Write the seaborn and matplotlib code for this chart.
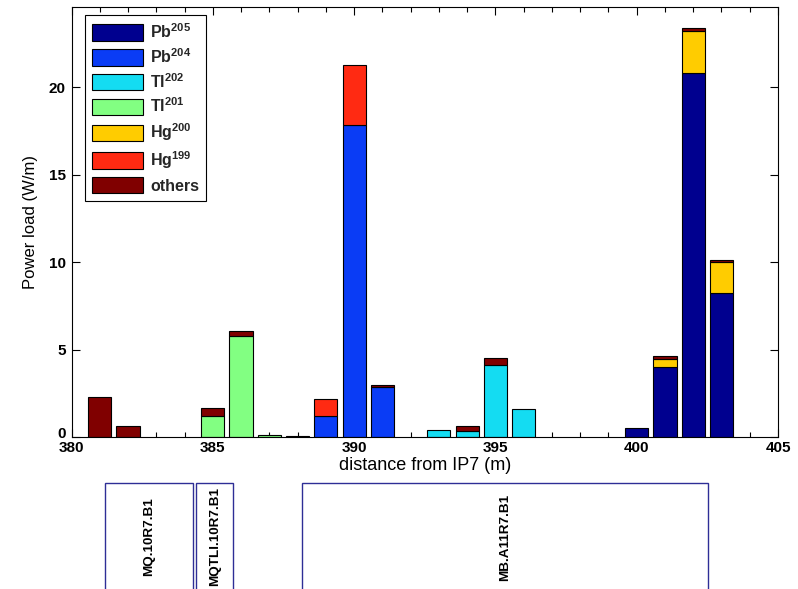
import numpy as np
import pandas as pd
import matplotlib
matplotlib.use("Agg")
import matplotlib.pyplot as plt
import matplotlib.transforms as mtrans
from matplotlib.patches import Patch, Rectangle
import seaborn as sns

# ---------------- data ----------------
positions = [381, 382, 383, 384, 385, 386, 387, 388, 389, 390, 391, 392,
             393, 394, 395, 396, 397, 398, 399, 400, 401, 402, 403]
pb205 = [0, 0, 0, 0, 0, 0, 0, 0, 0, 0, 0, 0, 0, 0, 0, 0, 0, 0, 0, 0.5, 3.98, 20.8, 8.25]
pb204 = [0, 0, 0, 0, 0, 0, 0, 0, 1.2, 17.83, 2.84, 0, 0, 0, 0, 0, 0, 0, 0, 0, 0, 0, 0]
tl202 = [0, 0, 0, 0, 0, 0, 0, 0, 0, 0, 0, 0, 0.38, 0.36, 4.1, 1.63, 0, 0, 0, 0, 0, 0, 0]
tl201 = [0, 0, 0, 0, 1.2, 5.77, 0.1, 0, 0, 0, 0, 0, 0, 0, 0, 0, 0, 0, 0, 0, 0, 0, 0]
hg200 = [0, 0, 0, 0, 0, 0, 0, 0, 0, 0, 0, 0, 0, 0, 0, 0, 0, 0, 0, 0, 0.5, 2.4, 1.75]
hg199 = [0, 0, 0, 0, 0, 0, 0, 0, 0.95, 3.47, 0, 0, 0, 0, 0, 0, 0, 0, 0, 0, 0, 0, 0]
others = [2.3, 0.63, 0, 0, 0.46, 0.27, 0, 0.08, 0, 0, 0.16, 0, 0, 0.27, 0.41, 0, 0, 0, 0, 0, 0.17, 0.17, 0.11]

series_names = ["Pb205", "Pb204", "Tl202", "Tl201", "Hg200", "Hg199", "others"]
series_labels = ["Pb$^{205}$", "Pb$^{204}$", "Tl$^{202}$", "Tl$^{201}$",
                 "Hg$^{200}$", "Hg$^{199}$", "others"]
series_values = [pb205, pb204, tl202, tl201, hg200, hg199, others]
series_colors = ["#00008F", "#0A3CF5", "#14DCF2", "#82FF82", "#FFCC00", "#FF2A12", "#800000"]

element_names = ["MQ.10R7.B1", "MQTLI.10R7.B1", "MB.A11R7.B1"]
element_start = [381.17, 384.42, 388.15]
element_end = [384.3, 385.73, 402.52]

xticks = [380, 385, 390, 395, 400, 405]
yticks = [0, 5, 10, 15, 20]

# ---------------- style ----------------
sns.set_theme(style="white")
plt.rcParams["font.family"] = ["Liberation Sans", "DejaVu Sans"]
plt.rcParams["mathtext.default"] = "regular"

rows = []
for name, vals in zip(series_names, series_values):
    for p, v in zip(positions, vals):
        if v > 0:
            rows.append({"pos": p, "val": v, "isotope": name})
df = pd.DataFrame(rows)

fig = plt.figure(figsize=(7.98, 5.89), dpi=100)
ax = fig.add_axes([71.5 / 798, 152 / 589, 706.5 / 798, 430 / 589])

palette = dict(zip(series_names, series_colors))
sns.histplot(data=df, x="pos", weights="val", hue="isotope",
             hue_order=series_names[::-1], palette=palette,
             multiple="stack", discrete=True, shrink=0.82,
             alpha=1, edgecolor="black", linewidth=0.8,
             legend=False, ax=ax)
for p in ax.patches:
    if p.get_height() <= 0:
        p.set_visible(False)

ax.set_xlim(380, 405)
ax.set_ylim(0, 24.6)
ax.set_xticks(xticks)
ax.set_xticks(np.arange(380, 406, 1), minor=True)
ax.set_yticks(yticks)
ax.tick_params(which="both", direction="in", top=True, right=True,
               bottom=True, left=True, width=0.8, colors="black")
ax.tick_params(which="major", length=6)
ax.tick_params(which="minor", length=3.5)
for lab in ax.get_xticklabels() + ax.get_yticklabels():
    lab.set_fontweight("bold")
    lab.set_fontsize(11)
ax.tick_params(axis="x", pad=3)
ax.tick_params(axis="y", pad=4)
# lift the "0" label a little, as in the reference
ylabs = ax.get_yticklabels()
ylabs[0].set_transform(ylabs[0].get_transform() +
                       mtrans.ScaledTranslation(0, 5 / 100, fig.dpi_scale_trans))
for s in ax.spines.values():
    s.set_color("black")
    s.set_linewidth(0.8)

ax.set_xlabel("distance from IP7 (m)", fontsize=13, labelpad=1, color="black")
ax.set_ylabel("Power load (W/m)", fontsize=12, labelpad=8, color="black")

handles = [Patch(facecolor=c, edgecolor="black", linewidth=0.8) for c in series_colors]
leg = ax.legend(handles, series_labels, loc="upper left",
                bbox_to_anchor=(0.019, 0.981), borderaxespad=0,
                prop={"weight": "bold", "size": 11.5},
                handlelength=3.2, handleheight=1.2, labelspacing=0.38,
                handletextpad=0.44, borderpad=0.45, fancybox=False,
                framealpha=1, edgecolor="black")
leg.get_frame().set_linewidth(0.8)

# ---------------- element layout strip ----------------
ax2 = fig.add_axes([71.5 / 798, -2 / 589, 706.5 / 798, 108 / 589])
ax2.set_xlim(380, 405)
ax2.set_ylim(0, 1)
ax2.axis("off")
for name, x0, x1 in zip(element_names, element_start, element_end):
    ax2.add_patch(Rectangle((x0, 0), x1 - x0, 1, fill=False,
                            edgecolor="#2E2E96", linewidth=1.0, clip_on=False))
    ax2.text((x0 + x1) / 2, 0.5, name, rotation=90, ha="center", va="center",
             fontsize=9.7, fontweight="bold", color="black")

fig.savefig("out.png", dpi=100)
